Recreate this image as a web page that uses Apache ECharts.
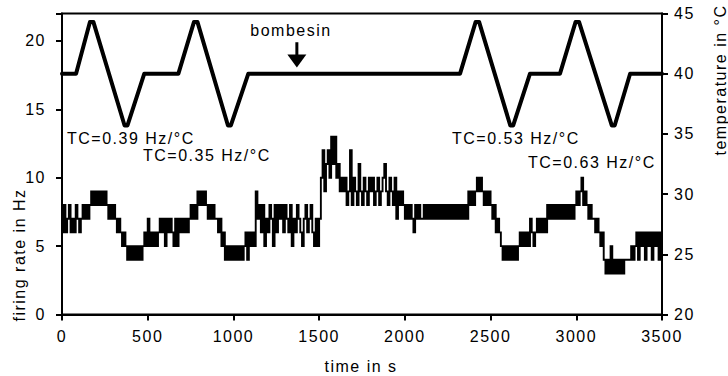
<!DOCTYPE html>
<html>
<head>
<meta charset="utf-8">
<script src="https://cdn.jsdelivr.net/npm/echarts@6/dist/echarts.min.js"></script>
<style>
  html, body { margin: 0; padding: 0; background: #fff; }
  #chart { width: 728px; height: 376px; }
  #chart text { letter-spacing: 1.5px; }
</style>
</head>
<body>
<div id="chart"></div>
<script>
// ---- data ----
const xTicks = [0, 500, 1000, 1500, 2000, 2500, 3000, 3500];
const leftTicks = [0, 5, 10, 15, 20];
const rightTicks = [20, 25, 30, 35, 40, 45];

// temperature protocol (s, °C)
const tempTime = [0, 82, 163, 183, 365, 382, 480, 679, 770, 790, 968, 985, 1087,
  2322, 2413, 2433, 2615, 2632, 2730, 2905, 2996, 3016, 3207, 3224, 3314, 3500];
const tempC = [40, 40, 44.3, 44.3, 35.7, 35.7, 40, 40, 44.3, 44.3, 35.7, 35.7, 40,
  40, 44.3, 44.3, 35.7, 35.7, 40, 40, 44.3, 44.3, 35.7, 35.7, 40, 40];

// firing rate (Hz), one value every 10 s from 0 to 3500 s
const firingStep = 10;
const firingRate = [
  6,8,6,7,8,6,7,6,8,7,
  6,7,8,7,8,7,8,9,8,9,
  8,9,8,9,8,9,8,7,8,7,
  8,7,6,7,6,5,6,5,4,5,
  4,5,4,5,4,5,4,5,6,5,
  7,5,6,5,6,5,6,7,6,7,
  5,7,6,7,6,5,7,5,7,6,
  7,6,7,6,7,8,7,8,7,9,
  8,9,8,9,8,7,8,7,8,7,
  7,6,7,5,6,4,5,4,5,4,
  5,4,5,4,5,4,5,6,4,6,
  5,6,5,9,7,8,6,8,5,7,
  6,8,7,5,8,6,8,7,8,6,
  8,7,6,8,5,7,6,8,7,6,
  5,7,8,6,7,8,6,5,7,5,
  7,10,12,9,11,12,10,13,11,13,
  10,11,9,10,9,10,8,9,12,8,
  10,9,8,11,9,8,10,9,8,10,
  9,10,8,9,10,8,9,10,11,9,
  8,10,9,8,10,7,9,8,9,8,
  7,8,7,8,7,6,8,7,8,7,
  7,8,7,8,7,8,7,8,7,8,
  7,8,7,8,7,8,7,8,7,8,
  7,8,7,8,7,8,7,9,8,9,
  8,9,10,9,10,9,8,9,8,9,
  8,7,8,6,7,6,5,4,5,4,
  5,4,5,4,5,4,5,6,5,6,
  5,6,5,7,6,5,6,7,6,7,
  6,7,6,8,7,8,7,8,7,8,
  7,8,7,8,7,8,7,8,7,8,
  9,8,9,10,8,9,8,7,8,7,
  7,6,7,6,5,6,4,3,4,3,
  5,3,4,3,4,3,4,3,4,4,
  4,4,5,4,5,6,4,6,5,6,
  4,6,5,6,4,6,5,6,4,6,
  5
];

const bombesinTime = 1370;
const annotations = [
  { text: 'TC=0.39 Hz/°C', x: 67, y: 138 },
  { text: 'TC=0.35 Hz/°C', x: 143, y: 155 },
  { text: 'TC=0.53 Hz/°C', x: 452, y: 138 },
  { text: 'TC=0.63 Hz/°C', x: 528, y: 162 }
];

// ---- chart ----
const FONT = '"Liberation Sans", Arial, sans-serif';
const chart = echarts.init(document.getElementById('chart'), null, { renderer: 'svg' });

const firingData = firingRate.map((v, i) => [i * firingStep, v]);
const tempData = tempTime.map((t, i) => [t, tempC[i]]);

const axisCommon = {
  axisLine: { show: true, lineStyle: { color: '#000', width: 2 } },
  axisTick: { show: true, length: 6, lineStyle: { color: '#000', width: 2 } },
  splitLine: { show: false },
  axisLabel: { color: '#000', fontSize: 16, fontFamily: FONT }
};

chart.setOption({
  animation: false,
  backgroundColor: '#fff',
  grid: { left: 62, right: 66, top: 13.5, bottom: 61.5, show: true, borderColor: '#000', borderWidth: 2, backgroundColor: 'transparent' },
  xAxis: Object.assign({}, axisCommon, {
    type: 'value', min: xTicks[0], max: xTicks[xTicks.length - 1], interval: 500,
    axisLabel: Object.assign({}, axisCommon.axisLabel, { margin: 14, formatter: v => String(v) })
  }),
  yAxis: [
    Object.assign({}, axisCommon, {
      type: 'value', position: 'left', min: 0, max: 22, interval: 5,
      axisLabel: Object.assign({}, axisCommon.axisLabel, {
        margin: 16,
        formatter: v => leftTicks.includes(v) ? String(v) : ''
      })
    }),
    Object.assign({}, axisCommon, {
      type: 'value', position: 'right', min: rightTicks[0], max: rightTicks[rightTicks.length - 1], interval: 5,
      axisLabel: Object.assign({}, axisCommon.axisLabel, { margin: 12 })
    })
  ],
  series: [
    {
      type: 'line', name: 'firing rate', data: firingData, xAxisIndex: 0, yAxisIndex: 0,
      showSymbol: false, symbol: 'none', step: 'end',
      lineStyle: { color: '#000', width: 1.9, join: 'miter' }, z: 2
    },
    {
      type: 'line', name: 'temperature', data: tempData, xAxisIndex: 0, yAxisIndex: 1,
      showSymbol: false, symbol: 'none',
      lineStyle: { color: '#000', width: 4, join: 'round', cap: 'round' }, z: 3
    }
  ]
});

// annotations
const arrowTop = chart.convertToPixel({ xAxisIndex: 0, yAxisIndex: 0 }, [bombesinTime, 19.9]);
const arrowTip = chart.convertToPixel({ xAxisIndex: 0, yAxisIndex: 0 }, [bombesinTime, 18.05]);
const arrowX = arrowTop[0];
const headH = 13, headW = 19;

const textStyle = (txt, extra) => Object.assign({ text: txt, fill: '#000', font: '16px ' + FONT }, extra || {});

const graphic = [
  { type: 'text', x: 291, y: 30, style: textStyle('bombesin', { align: 'center', verticalAlign: 'middle' }) },
  { type: 'rect', shape: { x: arrowX - 1.5, y: arrowTop[1], width: 3, height: arrowTip[1] - arrowTop[1] - headH + 1 }, style: { fill: '#000' } },
  { type: 'polygon', shape: { points: [[arrowX - headW / 2, arrowTip[1] - headH], [arrowX + headW / 2, arrowTip[1] - headH], [arrowX, arrowTip[1]]] }, style: { fill: '#000' } },
  { type: 'text', x: 19, y: 255, rotation: Math.PI / 2, style: textStyle('firing rate in Hz', { align: 'center', verticalAlign: 'middle' }) },
  { type: 'text', x: 720, y: 80, rotation: Math.PI / 2, style: textStyle('temperature in °C', { align: 'center', verticalAlign: 'middle' }) },
  { type: 'text', x: 361, y: 366, style: textStyle('time in s', { align: 'center', verticalAlign: 'middle' }) }
];
annotations.forEach(a => graphic.push({ type: 'text', x: a.x, y: a.y, style: textStyle(a.text, { align: 'left', verticalAlign: 'middle' }) }));
chart.setOption({ graphic: graphic });
</script>
</body>
</html>
